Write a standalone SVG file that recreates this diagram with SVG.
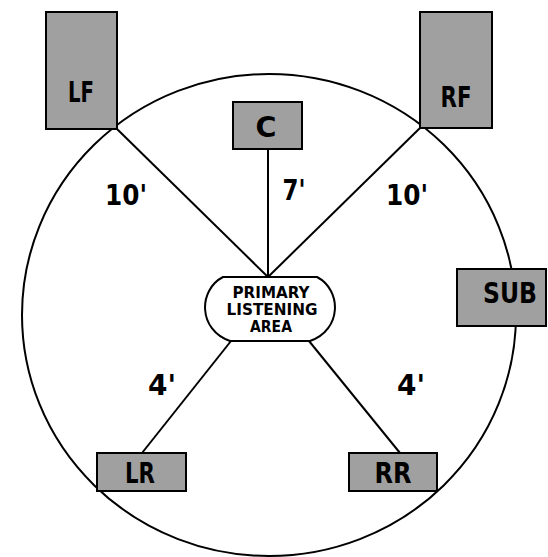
<svg xmlns="http://www.w3.org/2000/svg" width="548" height="557" viewBox="0 0 548 557">
<style>
.box{fill:#a0a0a0;stroke:#000;stroke-width:2}
.lbl{font-family:"DejaVu Sans",sans-serif;font-weight:bold;font-size:29px;fill:#000;text-anchor:middle}
.dim{font-family:"DejaVu Sans",sans-serif;font-weight:bold;font-size:28px;fill:#000;text-anchor:middle}
.la{font-family:"DejaVu Sans",sans-serif;font-weight:bold;font-size:15px;fill:#000;text-anchor:middle}
.ln{stroke:#000;stroke-width:2;fill:none}
</style>
<rect width="548" height="557" fill="#fff"/>
<ellipse id="room" cx="269" cy="315" rx="247" ry="241" class="ln"/>
<g id="connectors">
<line class="ln" x1="117" y1="129" x2="268" y2="277"/>
<line class="ln" x1="268" y1="149" x2="268" y2="277"/>
<line class="ln" x1="420" y1="128" x2="268" y2="277"/>
<line class="ln" x1="142" y1="453" x2="231" y2="341"/>
<line class="ln" x1="400" y1="453" x2="309" y2="341"/>
</g>
<g id="dims">
<text class="dim" x="126" y="205" textLength="42" lengthAdjust="spacingAndGlyphs">10'</text>
<text class="dim" x="294" y="200" textLength="23" lengthAdjust="spacingAndGlyphs">7'</text>
<text class="dim" x="407" y="205" textLength="42" lengthAdjust="spacingAndGlyphs">10'</text>
<text class="dim" x="162" y="395" textLength="28" lengthAdjust="spacingAndGlyphs">4'</text>
<text class="dim" x="411" y="395" textLength="28" lengthAdjust="spacingAndGlyphs">4'</text>
</g>
<g id="LF">
<rect class="box" x="46" y="12" width="71" height="117"/>
<text class="lbl" x="81" y="102" textLength="26" lengthAdjust="spacingAndGlyphs">LF</text>
</g>
<g id="C">
<rect class="box" x="233" y="102" width="69" height="47"/>
<text class="lbl" x="266" y="137" textLength="21" lengthAdjust="spacingAndGlyphs">C</text>
</g>
<g id="RF">
<rect class="box" x="420" y="12" width="72" height="116"/>
<text class="lbl" x="456" y="107" textLength="31" lengthAdjust="spacingAndGlyphs">RF</text>
</g>
<g id="SUB">
<rect class="box" x="457" y="269" width="89" height="57"/>
<text class="lbl" x="510" y="303" font-size="26" textLength="54" lengthAdjust="spacingAndGlyphs">SUB</text>
</g>
<g id="LR">
<rect class="box" x="97" y="453" width="89" height="38"/>
<text class="lbl" x="140" y="483" textLength="30" lengthAdjust="spacingAndGlyphs">LR</text>
</g>
<g id="RR">
<rect class="box" x="349" y="453" width="88" height="38"/>
<text class="lbl" x="393" y="483" textLength="37" lengthAdjust="spacingAndGlyphs">RR</text>
</g>
<g id="listening">
<path class="ln" d="M223,277 H317 C342,290 342,330 310,341 H230 C198,330 198,290 223,277 Z" style="fill:#fff"/>
<text class="la" x="271" y="298" textLength="77" lengthAdjust="spacingAndGlyphs">PRIMARY</text>
<text class="la" x="272" y="315" textLength="91" lengthAdjust="spacingAndGlyphs">LISTENING</text>
<text class="la" x="271" y="332" textLength="42" lengthAdjust="spacingAndGlyphs">AREA</text>
</g>
</svg>
